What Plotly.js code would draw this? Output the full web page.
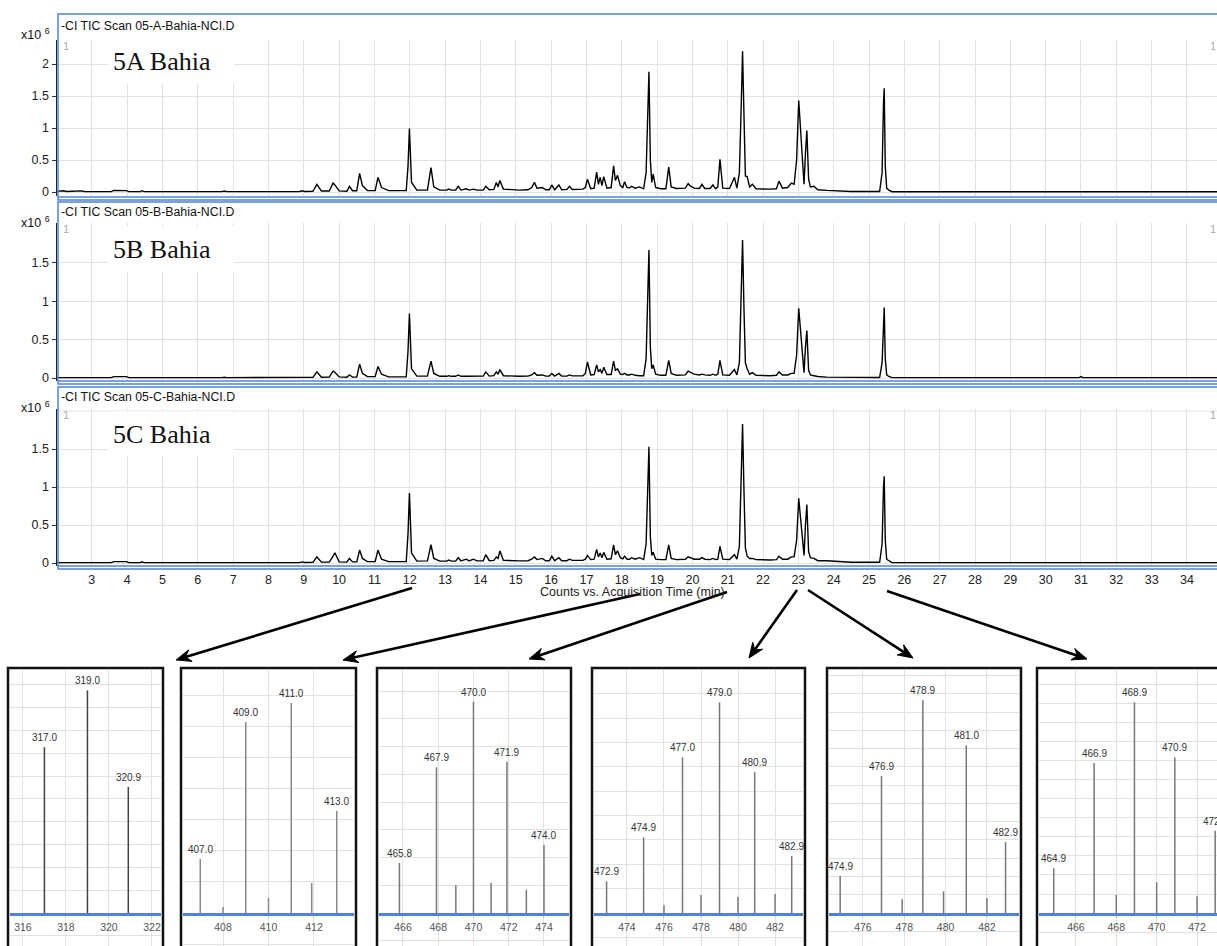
<!DOCTYPE html>
<html><head><meta charset="utf-8">
<script src="https://cdn.plot.ly/plotly-3.0.1.min.js"></script>
<style>html,body{margin:0;padding:0;background:#fff;}#chart{width:1217px;height:946px;}</style>
</head><body><div id="chart"></div>
<script>
// ---------- chromatogram data (retention time in min, counts x10^6) ----------
const rt = [2.00,2.15,2.20,2.28,2.65,2.72,2.80,3.55,3.62,3.98,4.05,4.38,4.42,4.48,6.68,6.75,6.82,8.88,8.95,9.02,
9.26,9.37,9.50,9.72,9.83,9.88,10.00,10.22,10.29,10.38,10.50,10.58,10.66,10.80,11.02,11.10,11.20,11.40,11.90,11.95,
11.99,12.05,12.20,12.50,12.60,12.68,12.85,13.05,13.10,13.18,13.30,13.37,13.45,13.60,13.68,13.80,13.90,14.08,14.15,14.25,
14.38,14.45,14.50,14.55,14.65,14.85,15.10,15.35,15.45,15.53,15.60,15.75,15.85,15.95,16.02,16.10,16.22,16.30,16.45,16.52,
16.60,16.90,16.97,17.03,17.12,17.22,17.29,17.34,17.39,17.44,17.49,17.58,17.70,17.77,17.82,17.88,17.96,18.03,18.08,18.15,
18.22,18.28,18.38,18.50,18.62,18.69,18.73,18.77,18.81,18.85,18.89,18.96,19.10,19.25,19.33,19.40,19.55,19.80,19.88,19.95,
20.05,20.20,20.27,20.35,20.50,20.58,20.66,20.72,20.78,20.86,21.05,21.19,21.26,21.33,21.38,21.42,21.46,21.50,21.55,21.62,
21.70,21.80,22.20,22.38,22.45,22.55,22.70,22.80,22.88,22.95,23.01,23.06,23.12,23.16,23.20,23.24,23.29,23.34,23.44,23.55,
23.80,24.10,24.40,24.50,25.30,25.37,25.41,25.43,25.46,25.50,25.56,25.65,30.95,31.00,31.05,34.50,34.60,34.80,34.95,35.20];
const ticA = [.010,.012,.020,.008,.010,.018,.006,.006,.025,.022,.006,.006,.020,.006,.006,.016,.006,.006,.020,.008,
.010,.120,.015,.015,.140,.110,.018,.012,.090,.020,.020,.290,.100,.022,.022,.230,.070,.022,.022,.400,
.990,.150,.030,.030,.380,.080,.030,.030,.045,.030,.030,.090,.030,.050,.030,.045,.030,.030,.090,.035,
.040,.150,.080,.180,.045,.035,.030,.035,.070,.150,.060,.070,.035,.035,.110,.035,.110,.035,.040,.090,
.040,.045,.070,.200,.050,.060,.310,.120,.230,.100,.240,.060,.070,.410,.180,.260,.100,.070,.160,.070,
.065,.090,.060,.080,.050,.300,1.20,1.88,.500,.150,.280,.070,.050,.050,.390,.080,.055,.060,.130,.090,
.060,.055,.120,.055,.055,.110,.050,.080,.510,.060,.055,.230,.060,.300,1.30,2.20,1.20,.250,.240,.080,
.120,.050,.045,.050,.170,.060,.070,.140,.120,.500,1.43,1.00,.300,.120,.600,.960,.200,.080,.090,.035,
.025,.018,.015,.008,.008,.300,1.40,1.62,.400,.060,.030,.005,.005,.005,.005,.005,.012,.005,.012,.005];
const ticB = [.005,.006,.010,.005,.005,.008,.005,.005,.018,.018,.005,.005,.006,.005,.005,.010,.005,.005,.012,.006,
.008,.080,.010,.012,.090,.075,.015,.010,.040,.012,.012,.180,.060,.018,.018,.150,.050,.015,.015,.350,
.840,.120,.025,.025,.220,.060,.022,.022,.030,.022,.022,.040,.022,.022,.022,.025,.022,.025,.080,.025,
.030,.080,.050,.110,.030,.025,.022,.025,.040,.070,.035,.040,.025,.025,.060,.025,.060,.025,.025,.040,
.028,.030,.060,.210,.040,.045,.170,.080,.110,.060,.140,.045,.045,.220,.100,.120,.050,.045,.060,.040,
.040,.050,.035,.030,.030,.250,1.00,1.67,.400,.120,.170,.050,.035,.035,.230,.060,.035,.040,.090,.070,
.050,.040,.050,.040,.035,.050,.035,.050,.230,.040,.035,.110,.040,.200,1.10,1.80,.900,.200,.120,.050,
.070,.035,.030,.035,.080,.040,.040,.060,.060,.300,.910,.600,.200,.070,.400,.620,.100,.040,.030,.020,
.012,.010,.010,.006,.006,.200,.800,.920,.250,.040,.020,.005,.005,.018,.005,.005,.008,.005,.008,.005];
const ticC = [.005,.006,.010,.005,.005,.008,.005,.005,.018,.018,.005,.005,.015,.005,.005,.012,.005,.005,.015,.006,
.008,.080,.012,.012,.090,.135,.015,.012,.060,.015,.015,.170,.060,.018,.018,.170,.050,.018,.018,.380,
.920,.130,.025,.028,.240,.060,.025,.025,.040,.025,.025,.070,.028,.050,.028,.050,.028,.030,.110,.030,
.035,.080,.060,.160,.035,.030,.028,.030,.050,.080,.045,.060,.030,.030,.090,.030,.070,.030,.030,.050,
.035,.035,.050,.100,.045,.050,.180,.080,.130,.070,.140,.050,.055,.240,.110,.160,.070,.055,.090,.050,
.050,.070,.050,.070,.045,.250,.950,1.53,.350,.100,.140,.050,.045,.045,.240,.060,.045,.050,.080,.070,
.050,.050,.070,.050,.045,.060,.045,.050,.220,.050,.045,.110,.050,.220,1.10,1.83,.950,.200,.090,.060,
.060,.045,.040,.045,.090,.050,.050,.080,.080,.300,.850,.600,.200,.100,.500,.770,.150,.070,.060,.030,
.030,.020,.015,.010,.010,.250,1.00,1.14,.300,.050,.030,.005,.005,.005,.005,.005,.010,.005,.010,.005];
const timeTicks = [3,4,5,6,7,8,9,10,11,12,13,14,15,16,17,18,19,20,21,22,23,24,25,26,27,28,29,30,31,32,33,34];
const countTicksA = [0,0.5,1,1.5,2];
const countTicksBC = [0,0.5,1,1.5];
const panelTitles = ['-CI TIC Scan 05-A-Bahia-NCI.D','-CI TIC Scan 05-B-Bahia-NCI.D','-CI TIC Scan 05-C-Bahia-NCI.D'];
const sampleNames = ['5A Bahia','5B Bahia','5C Bahia'];
const xAxisTitle = 'Counts vs. Acquisition Time (min)';

// ---------- mass spectra (m/z, relative abundance, peak label) ----------
const ms1Mz = [317.0,319.0,320.9];
const ms1Ab = [79,106,60];
const ms1Lbl = ['317.0','319.0','320.9'];
const ms2Mz = [407.0,408.0,409.0,410.0,411.0,411.9,413.0];
const ms2Ab = [25.7,2.9,91,7.1,100,14.3,48.6];
const ms2Lbl = ['407.0','','409.0','','411.0','','413.0'];
const ms3Mz = [465.8,467.9,469.0,470.0,471.0,471.9,473.0,474.0];
const ms3Ab = [23.8,69.4,13.3,100.6,14.3,72,11.1,32.4];
const ms3Lbl = ['465.8','467.9','','470.0','','471.9','','474.0'];
const ms4Mz = [472.9,474.9,476.0,477.0,478.0,479.0,480.0,480.9,482.0,482.9];
const ms4Ab = [15.1,36,3.7,74.1,8.6,100.3,7.6,67.1,9,27.1];
const ms4Lbl = ['472.9','474.9','','477.0','','479.0','','480.9','','482.9'];
const ms5Mz = [474.9,476.9,477.9,478.9,479.9,481.0,482.0,482.9];
const ms5Ab = [17.6,65.2,6.5,101.3,10.3,79.8,7.1,33.8];
const ms5Lbl = ['474.9','476.9','','478.9','','481.0','','482.9'];
const ms6Mz = [464.9,466.9,468.0,468.9,470.0,470.9,472.0,472.9];
const ms6Ab = [21.3,71.4,8.6,100.3,14.6,74.1,8,39.2];
const ms6Lbl = ['464.9','466.9','','468.9','','470.9','','472.9'];

// ---------- layout helpers ----------
const W = 1217, H = 946;
const px = v => v / W;
const py = v => 1 - v / H;
const BLUE = '#4f83d6';
const GRID = '#e2e2e2';
const SANS = 'Liberation Sans, Arial, sans-serif';

const data = [];
const layout = {
  width: W, height: H, margin: {l:0, r:0, t:0, b:0},
  paper_bgcolor: '#fff', plot_bgcolor: '#fff', showlegend: false,
  font: {family: SANS, color: '#222', size: 12},
  shapes: [], annotations: []
};

// chromatogram panels: pixel geometry
const panels = [
  {ys: ticA, ticks: countTicksA, top: 40, bottom: 196, zero: 192, unit: 64, boxTop: 14, boxBot: 200, title: 26, name: 61},
  {ys: ticB, ticks: countTicksBC, top: 223, bottom: 381, zero: 378, unit: 76.7, boxTop: 202, boxBot: 384, title: 212, name: 249},
  {ys: ticC, ticks: countTicksBC, top: 409, bottom: 566, zero: 563, unit: 76, boxTop: 387, boxBot: 569, title: 397, name: 434}
];
const xRange = [2.0, 34.85];
panels.forEach((p, i) => {
  const n = i + 1, s = n === 1 ? '' : String(n);
  data.push({type: 'scatter', mode: 'lines', x: rt, y: p.ys, xaxis: 'x' + s, yaxis: 'y' + s,
    line: {color: '#000', width: 1.4}, hoverinfo: 'skip'});
  layout['xaxis' + s] = {
    domain: [px(56.5), 1], range: xRange, anchor: 'y' + s,
    tickvals: timeTicks, ticktext: timeTicks.map(String),
    showticklabels: n === 3, ticks: n === 3 ? 'outside' : '', ticklen: 2, tickcolor: 'rgba(0,0,0,0)',
    tickfont: {size: 12.5, color: '#222', family: SANS},
    showgrid: true, gridcolor: GRID, gridwidth: 1, zeroline: false, showline: false, fixedrange: true
  };
  layout['yaxis' + s] = {
    domain: [py(p.bottom), py(p.top)],
    range: [-(p.bottom - p.zero) / p.unit, (p.zero - p.top) / p.unit],
    anchor: 'x' + s, tickvals: p.ticks, ticktext: p.ticks.map(String),
    ticks: 'outside', ticklen: 4, tickcolor: '#333', tickfont: {size: 12.5, color: '#222', family: SANS},
    showline: true, linecolor: '#222', linewidth: 1, showgrid: true, gridcolor: GRID,
    zeroline: false, fixedrange: true
  };
  if (n === 3) layout.shapes.push({type: 'line', xref: 'x3 domain', yref: 'y3', x0: 0, x1: 1, y0: 2, y1: 2,
    line: {color: GRID, width: 1}, layer: 'below'});
  // blue frame and double bottom line
  layout.shapes.push({type: 'rect', xref: 'paper', yref: 'paper', x0: px(58), x1: px(1230),
    y0: py(p.boxBot), y1: py(p.boxTop), line: {color: BLUE, width: 1.5}, layer: 'above'});
  layout.shapes.push({type: 'line', xref: 'paper', yref: 'paper', x0: px(58), x1: px(1230),
    y0: py(p.boxBot - 3), y1: py(p.boxBot - 3), line: {color: BLUE, width: 1.5}, layer: 'above'});
  // texts
  layout.annotations.push({xref: 'paper', yref: 'paper', x: px(59), y: py(p.title), xanchor: 'left', yanchor: 'middle',
    text: panelTitles[i], showarrow: false, font: {size: 12.3, color: '#111', family: SANS}});
  layout.annotations.push({xref: 'paper', yref: 'paper', x: px(19), y: py(p.boxTop + 20), xanchor: 'left', yanchor: 'middle',
    text: 'x10 <sup>6</sup>', showarrow: false, font: {size: 12.5, color: '#111', family: SANS}});
  layout.annotations.push({xref: 'paper', yref: 'paper', x: px(61), y: py(p.top + 6), xanchor: 'left', yanchor: 'middle',
    text: '1', showarrow: false, font: {size: 11, color: '#aaa', family: SANS}});
  layout.annotations.push({xref: 'paper', yref: 'paper', x: px(1208), y: py(p.top + 6), xanchor: 'left', yanchor: 'middle',
    text: '1', showarrow: false, font: {size: 11, color: '#aaa', family: SANS}});
  layout.annotations.push({xref: 'paper', yref: 'paper', x: px(108), y: py(p.name), xanchor: 'left', yanchor: 'middle',
    text: sampleNames[i], showarrow: false, align: 'left', width: 117, height: 36, borderpad: 4,
    bgcolor: '#fff', font: {size: 26, color: '#111', family: 'Liberation Serif, Times New Roman, serif'}});
});
layout.annotations.push({xref: 'paper', yref: 'paper', x: px(632), y: py(592), xanchor: 'center', yanchor: 'middle',
  text: xAxisTitle, showarrow: false, font: {size: 12.5, color: '#222', family: SANS}});

// mass spectrum boxes
const boxes = [
  {mz: ms1Mz, ab: ms1Ab, lbl: ms1Lbl, b0: 8, b1: 163, range: [315.40, 322.42], grid: 10.86, col: '#444'},
  {mz: ms2Mz, ab: ms2Ab, lbl: ms2Lbl, b0: 181, b1: 356, range: [406.24, 413.76], grid: 14.8, col: '#888'},
  {mz: ms3Mz, ab: ms3Ab, lbl: ms3Lbl, b0: 377, b1: 571, range: [464.64, 475.42], grid: 13.2, col: '#777'},
  {mz: ms4Mz, ab: ms4Ab, lbl: ms4Lbl, b0: 592, b1: 805, range: [472.22, 483.51], grid: 11.6, col: '#777'},
  {mz: ms5Mz, ab: ms5Ab, lbl: ms5Lbl, b0: 827, b1: 1021, range: [474.36, 483.55], grid: 8.7, col: '#777'},
  {mz: ms6Mz, ab: ms6Ab, lbl: ms6Lbl, b0: 1037, b1: 1232, range: [464.17, 472.99], grid: 9.05, col: '#777'}
];
const bTop = 670, bBase = 913, bUnit = 2.1;
boxes.forEach((b, i) => {
  const n = String(i + 4);
  const x0 = b.b0 + 2, x1 = Math.min(b.b1 - 2, W);
  const span = b.range[1] - b.range[0];
  const barW = 1.5 * span / (x1 - x0);
  data.push({type: 'bar', x: b.mz, y: b.ab, xaxis: 'x' + n, yaxis: 'y' + n, width: barW,
    marker: {color: b.col, line: {width: 0}}, hoverinfo: 'skip'});
  layout['xaxis' + n] = {
    domain: [px(x0), px(x1)], range: b.range, anchor: 'free', position: 1 - (bBase + 1) / H,
    dtick: 2, tick0: 0, ticks: 'outside', ticklen: 2, tickcolor: '#ccc',
    tickfont: {size: 10.5, color: '#555', family: SANS},
    showline: true, linecolor: BLUE, linewidth: 3, showgrid: true, gridcolor: GRID,
    zeroline: false, fixedrange: true
  };
  layout['yaxis' + n] = {
    domain: [0, py(bTop)], range: [-(H - bBase) / bUnit, (bBase - bTop) / bUnit], anchor: 'x' + n,
    dtick: b.grid, tick0: 0, showticklabels: false, ticks: '', showgrid: true, gridcolor: GRID,
    zeroline: false, showline: false, fixedrange: true
  };
  b.mz.forEach((m, k) => {
    if (b.lbl[k]) layout.annotations.push({xref: 'x' + n, yref: 'y' + n, x: m, y: b.ab[k], yanchor: 'bottom',
      yshift: 2, text: b.lbl[k], showarrow: false, font: {size: 10, color: '#333', family: SANS}});
  });
  layout.shapes.push({type: 'rect', xref: 'paper', yref: 'paper', x0: px(b.b0), x1: px(b.b1),
    y0: -0.05, y1: py(668), line: {color: '#111', width: 2.5}, layer: 'above'});
});

// arrows from retention times to spectra (drawn as line + dart head)
const arrows = [
  {hx: 176, hy: 660, tx: 412, ty: 588},
  {hx: 343, hy: 660, tx: 640, ty: 594},
  {hx: 529, hy: 659, tx: 727, ty: 592},
  {hx: 749, hy: 658, tx: 797, ty: 590},
  {hx: 913, hy: 658, tx: 808, ty: 590},
  {hx: 1087, hy: 659, tx: 887, ty: 591}
];
arrows.forEach(a => {
  const dx = a.hx - a.tx, dy = a.hy - a.ty, L = Math.hypot(dx, dy);
  const ux = dx / L, uy = dy / L, nx = -uy, ny = ux;
  const back = 15, wing = 6, notch = 10;
  const bx = a.hx - ux * back, by = a.hy - uy * back;
  const p1 = [bx + nx * wing, by + ny * wing], p2 = [bx - nx * wing, by - ny * wing];
  const pn = [a.hx - ux * notch, a.hy - uy * notch];
  layout.shapes.push({type: 'line', xref: 'paper', yref: 'paper', x0: px(a.tx), y0: py(a.ty),
    x1: px(pn[0]), y1: py(pn[1]), line: {color: '#000', width: 2.6}, layer: 'above'});
  const P = (q) => px(q[0]) + ',' + py(q[1]);
  layout.shapes.push({type: 'path', xref: 'paper', yref: 'paper', layer: 'above',
    path: 'M' + P([a.hx, a.hy]) + ' L' + P(p1) + ' L' + P(pn) + ' L' + P(p2) + ' Z',
    fillcolor: '#000', line: {color: '#000', width: 1}});
});

Plotly.newPlot('chart', data, layout, {displayModeBar: false, staticPlot: true});
</script></body></html>
